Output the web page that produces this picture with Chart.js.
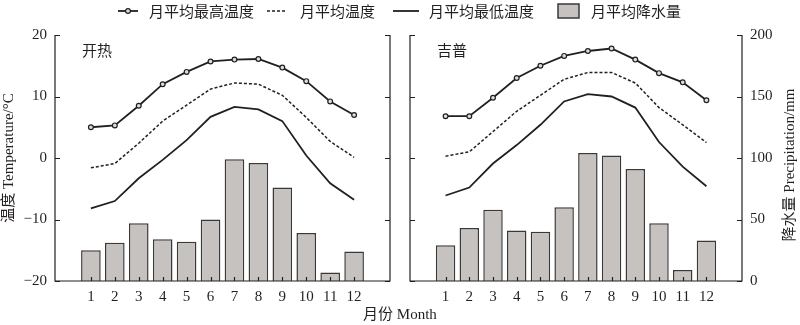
<!DOCTYPE html>
<html>
<head>
<meta charset="utf-8">
<script src="https://cdn.jsdelivr.net/npm/chart.js@4.4.0/dist/chart.umd.min.js"></script>
<style>
  body { margin: 0; background: #fff; }
  #wrap { position: relative; width: 800px; height: 325px; overflow: hidden; }
  #left, #right { position: absolute; top: 0; }
  #left { left: 0; }
  #right { left: 400px; }
  .legend { position: absolute; top: 0px; left: 118px; display: flex; align-items: center;
    font: 15px "Noto Sans CJK SC", sans-serif; color: #231f20; white-space: nowrap; }
  .legend svg { display: block; }
  .xtitle { position: absolute; top: 302px; left: 0; width: 800px; text-align: center;
    font: 15px "Liberation Serif", "Noto Sans CJK SC", serif; color: #231f20; }
</style>
</head>
<body>
<div id="wrap">
  <canvas id="left" width="400" height="325"></canvas>
  <canvas id="right" width="400" height="325"></canvas>
  <div class="legend">
    <svg width="20" height="10"><line x1="0" y1="5" x2="20" y2="5" stroke="#231f20" stroke-width="1.8"/><circle cx="10" cy="5" r="2.4" fill="#ddd" stroke="#231f20" stroke-width="1.2"/></svg>
    <span style="margin-left:11px">月平均最高温度</span>
    <svg style="margin-left:13px" width="20" height="10"><line x1="0" y1="5" x2="20" y2="5" stroke="#231f20" stroke-width="1.6" stroke-dasharray="3,2"/></svg>
    <span style="margin-left:13px">月平均温度</span>
    <svg style="margin-left:18px" width="26" height="10"><line x1="0" y1="5" x2="26" y2="5" stroke="#231f20" stroke-width="1.8"/></svg>
    <span style="margin-left:10px">月平均最低温度</span>
    <svg style="margin-left:23px" width="23" height="16"><rect x="1" y="1" width="21" height="14" fill="#c6c2c0" stroke="#3b3838" stroke-width="1.5"/></svg>
    <span style="margin-left:11px">月平均降水量</span>
  </div>
  <div class="xtitle">月份 Month</div>
</div>
<script>
// months on the x axis
const months = [1, 2, 3, 4, 5, 6, 7, 8, 9, 10, 11, 12];

// 开热 station
const kaireMax = [5.0, 5.3, 8.5, 12.0, 14.0, 15.7, 16.0, 16.1, 14.7, 12.5, 9.2, 7.0];
const kaireMean = [-1.6, -0.9, 2.4, 6.0, 8.6, 11.2, 12.2, 12.0, 10.2, 6.6, 2.7, 0.1];
const kaireMin = [-8.2, -7.0, -3.3, -0.3, 2.9, 6.7, 8.3, 7.9, 6.0, 0.4, -4.1, -6.8];
const kairePrec = [25, 31, 47, 34, 32, 50, 99, 96, 76, 39, 7, 24];

// 吉普 station
const jipuMax = [6.8, 6.8, 9.8, 13.0, 15.0, 16.6, 17.4, 17.8, 16.0, 13.8, 12.3, 9.4];
const jipuMean = [0.3, 1.0, 4.3, 7.6, 10.2, 12.8, 13.9, 13.9, 12.2, 8.2, 5.4, 2.5];
const jipuMin = [-6.1, -4.8, -0.9, 2.1, 5.4, 9.2, 10.4, 10.0, 8.2, 2.6, -1.4, -4.6];
const jipuPrec = [29, 43, 58, 41, 40, 60, 104, 102, 91, 47, 9, 33];

const tempTicks = [-20, -10, 0, 10, 20];
const precTicks = [0, 50, 100, 150, 200];

const ink = '#231f20';
const barFill = '#c6c2c0';
const serif = '"Liberation Serif", "Noto Sans CJK SC", serif';

Chart.defaults.font.family = serif;
Chart.defaults.font.size = 15;
Chart.defaults.color = ink;

function minus(v) {
    return String(v).replace('-', '\u2212');
}

// frame with inward ticks, panel name, optional rotated right title
const framePlugin = {
    id: 'frame',
    afterDraw(chart, args, opts) {
        const ctx = chart.ctx;
        const a = chart.chartArea;
        const ys = chart.scales[opts.tickAxis];
        const xs = chart.scales.x;
        ctx.save();
        ctx.strokeStyle = ink;
        ctx.lineWidth = 1.2;
        ctx.beginPath();
        ctx.moveTo(a.left, a.top);
        ctx.lineTo(a.left, a.bottom);
        ctx.lineTo(a.right, a.bottom);
        ctx.lineTo(a.right, a.top);
        opts.ticks.forEach(v => {
            const py = Math.round(ys.getPixelForValue(v)) + 0.5;
            ctx.moveTo(a.left, py);
            ctx.lineTo(a.left + 5, py);
            ctx.moveTo(a.right, py);
            ctx.lineTo(a.right - 5, py);
        });
        months.forEach(m => {
            const px = Math.round(xs.getPixelForValue(m)) + 0.5;
            ctx.moveTo(px, a.bottom);
            ctx.lineTo(px, a.bottom - 4);
        });
        ctx.stroke();

        ctx.fillStyle = ink;
        ctx.font = '15px "Noto Sans CJK SC", sans-serif';
        ctx.textBaseline = 'middle';
        ctx.fillText(opts.name, a.left + 27, a.top + 15);

        if (opts.sideTitle) {
            ctx.font = '15px ' + serif;
            ctx.textAlign = 'center';
            ctx.translate(chart.width - 10, 165);
            ctx.rotate(-Math.PI / 2);
            ctx.fillText(opts.sideTitle, 0, 0);
        }
        ctx.restore();
    }
};

function lineSets(maxT, meanT, minT, axis) {
    return [
        {
            type: 'line', data: maxT, yAxisID: axis, order: 1,
            borderColor: ink, borderWidth: 1.8, tension: 0,
            pointRadius: 2.4, pointBorderWidth: 1.2, pointBackgroundColor: '#ddd', pointBorderColor: ink
        },
        {
            type: 'line', data: meanT, yAxisID: axis, order: 1,
            borderColor: ink, borderWidth: 1.5, borderDash: [3, 2], pointRadius: 0, tension: 0
        },
        {
            type: 'line', data: minT, yAxisID: axis, order: 1,
            borderColor: ink, borderWidth: 1.8, pointRadius: 0, tension: 0
        }
    ];
}

function barSet(prec, axis) {
    return {
        type: 'bar', data: prec, yAxisID: axis, order: 2,
        backgroundColor: barFill, borderColor: '#3b3838', borderWidth: 1.5,
        barPercentage: 0.82, categoryPercentage: 1
    };
}

function xScale() {
    return {
        type: 'linear', min: 0, max: 13,
        grid: { display: false, drawTicks: false },
        border: { display: false },
        ticks: {
            stepSize: 1, autoSkip: false, maxRotation: 0, padding: 7,
            callback: v => (v >= 1 && v <= 12) ? v : ''
        },
        afterFit: s => { s.height = 44; }
    };
}

// left panel: 开热, temperature axis on the left
new Chart(document.getElementById('left'), {
    data: {
        labels: months,
        datasets: [...lineSets(kaireMax, kaireMean, kaireMin, 'y'), barSet(kairePrec, 'yP')]
    },
    options: {
        responsive: false,
        animation: false,
        devicePixelRatio: 1,
        layout: { padding: { top: 35, right: 10, left: 0, bottom: 0 } },
        plugins: {
            legend: { display: false },
            tooltip: { enabled: false },
            frame: { name: '开热', tickAxis: 'y', ticks: tempTicks }
        },
        scales: {
            x: xScale(),
            y: {
                position: 'left', min: -20, max: 20,
                grid: { display: false, drawTicks: false },
                border: { display: false },
                ticks: { stepSize: 10, padding: 8, callback: v => minus(v) },
                title: { display: true, text: '温度 Temperature/°C', padding: 0, font: { size: 15 } },
                afterFit: s => { s.width = 55; }
            },
            yP: { display: false, min: 0, max: 200 }
        }
    },
    plugins: [framePlugin]
});

// right panel: 吉普, precipitation axis on the right
new Chart(document.getElementById('right'), {
    data: {
        labels: months,
        datasets: [...lineSets(jipuMax, jipuMean, jipuMin, 'yT'), barSet(jipuPrec, 'y')]
    },
    options: {
        responsive: false,
        animation: false,
        devicePixelRatio: 1,
        layout: { padding: { top: 35, right: 0, left: 10, bottom: 0 } },
        plugins: {
            legend: { display: false },
            tooltip: { enabled: false },
            frame: { name: '吉普', tickAxis: 'y', ticks: precTicks, sideTitle: '降水量 Precipitation/mm' }
        },
        scales: {
            x: xScale(),
            y: {
                position: 'right', min: 0, max: 200,
                grid: { display: false, drawTicks: false },
                border: { display: false },
                ticks: { stepSize: 50, padding: 8 },
                afterFit: s => { s.width = 58; }
            },
            yT: { display: false, min: -20, max: 20 }
        }
    },
    plugins: [framePlugin]
});
</script>
</body>
</html>
